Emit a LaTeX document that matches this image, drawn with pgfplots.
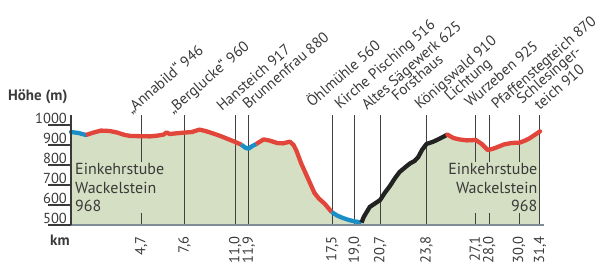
\documentclass[border=0pt]{standalone}
\usepackage{fontspec}
\setmainfont{PT Sans}
\usepackage{pgfplots}
\usepackage{pgfplotstable}
\pgfplotsset{compat=1.18}
\definecolor{fillgreen}{HTML}{D5DFC3}
\definecolor{pred}{HTML}{E2453A}
\definecolor{pblue}{HTML}{1B8FC5}
\definecolor{pblack}{HTML}{222222}
\definecolor{txt}{HTML}{3A3A3A}
\definecolor{vline}{HTML}{404040}
\definecolor{base}{HTML}{7D8C96}

\pgfplotstableread{
km elev
0 965
0.5 960
1.0 950
1.5 962
2.0 972
2.6 970
3.1 962
3.6 950
4.0 945
4.7 944
5.3 943
5.8 947
6.2 952
6.4 963
6.6 955
7.0 958
7.6 962
8.1 965
8.6 977
9.0 970
9.5 958
10.0 945
10.5 930
11.0 915
11.4 902
11.7 885
11.9 882
12.1 893
12.4 905
12.9 928
13.3 922
13.8 910
14.2 908
14.65 917
14.9 900
15.1 870
15.4 810
15.7 760
16.0 710
16.3 660
16.6 632
17.0 605
17.45 565
17.8 548
18.2 535
18.6 525
19.0 518
19.45 512
19.6 540
20.0 590
20.3 605
20.7 625
21.0 660
21.35 695
21.7 735
22.0 765
22.4 790
22.7 808
23.0 820
23.25 840
23.5 875
23.8 905
24.2 915
24.5 925
24.9 940
25.2 952
25.6 935
26.0 928
26.5 923
27.1 925
27.5 905
27.9 875
28.2 880
28.5 888
29.0 903
29.5 910
30.05 912
30.4 922
30.7 933
31.0 948
31.4 968
}\profile

\pgfplotstableread{
km elev
0 965
0.5 960
1.0 950
}\blueA
\pgfplotstableread{
km elev
1.0 950
1.5 962
2.0 972
2.6 970
3.1 962
3.6 950
4.0 945
4.7 944
5.3 943
5.8 947
6.2 952
6.4 963
6.6 955
7.0 958
7.6 962
8.1 965
8.6 977
9.0 970
9.5 958
10.0 945
10.5 930
11.0 915
11.4 902
}\redA
\pgfplotstableread{
km elev
11.4 902
11.7 885
11.9 882
12.1 893
12.4 905
}\blueB
\pgfplotstableread{
km elev
12.4 905
12.9 928
13.3 922
13.8 910
14.2 908
14.65 917
14.9 900
15.1 870
15.4 810
15.7 760
16.0 710
16.3 660
16.6 632
17.0 605
17.45 565
}\redB
\pgfplotstableread{
km elev
17.45 565
17.8 548
18.2 535
18.6 525
19.0 518
19.45 512
}\blueC
\pgfplotstableread{
km elev
19.45 512
19.6 540
20.0 590
20.3 605
20.7 625
21.0 660
21.35 695
21.7 735
22.0 765
22.4 790
22.7 808
23.0 820
23.25 840
23.5 875
23.8 905
24.2 915
24.5 925
24.9 940
25.2 952
}\blackA
\pgfplotstableread{
km elev
25.2 952
25.6 935
26.0 928
26.5 923
27.1 925
27.5 905
27.9 875
28.2 880
28.5 888
29.0 903
29.5 910
30.05 912
30.4 922
30.7 933
31.0 948
31.4 968
}\redC

\begin{document}
\begin{tikzpicture}
\begin{axis}[
  width=469bp, height=100bp, scale only axis,
  xmin=0, xmax=31.4, ymin=500, ymax=1000,
  clip=false,
  axis line style={draw=none},
  x tick style={draw=none}, y tick style={draw=none},
  ytick={500,600,700,800,900,1000},
  yticklabel style={anchor=base east, inner sep=0pt, xshift=-4bp, yshift=1.2bp, text=txt, font=\fontsize{14.5bp}{15bp}\selectfont},
  /pgf/number format/assume math mode=true,
  /pgf/number format/set thousands separator={},
  xtick={4.7,7.6,11.0,11.9,17.5,19.0,20.7,23.8,27.1,28.0,30.0,31.4},
  xticklabels={{4,7},{7,6},{11,0},{11,9},{17,5},{19,0},{20,7},{23,8},{27,1},{28,0},{30,0},{31,4}},
  xticklabel style={rotate=90, anchor=east, inner sep=0pt, text=txt, font=\fontsize{14.5bp}{15bp}\selectfont},
  xticklabel shift=11bp,
]
\addplot[draw=none, fill=fillgreen] table[x=km,y=elev]{\profile} \closedcycle;

% vertical marker lines
\draw[vline, line width=1bp] (axis cs:4.7,500) -- (axis cs:4.7,1050);
\draw[vline, line width=1bp] (axis cs:7.6,500) -- (axis cs:7.6,1050);
\draw[vline, line width=1bp] (axis cs:11.0,500) -- (axis cs:11.0,1050);
\draw[vline, line width=1bp] (axis cs:11.9,500) -- (axis cs:11.9,1050);
\draw[vline, line width=1bp] (axis cs:17.5,500) -- (axis cs:17.5,1050);
\draw[vline, line width=1bp] (axis cs:19.0,500) -- (axis cs:19.0,1050);
\draw[vline, line width=1bp] (axis cs:20.7,500) -- (axis cs:20.7,1050);
\draw[vline, line width=1bp] (axis cs:23.8,500) -- (axis cs:23.8,1050);
\draw[vline, line width=1bp] (axis cs:27.1,500) -- (axis cs:27.1,1050);
\draw[vline, line width=1bp] (axis cs:28.0,500) -- (axis cs:28.0,1050);
\draw[vline, line width=1bp] (axis cs:30.0,500) -- (axis cs:30.0,1050);
\draw[vline, line width=1bp] (axis cs:31.4,500) -- (axis cs:31.4,1050);

% inner text boxes
\node[fill=fillgreen, inner sep=1bp, align=left, anchor=north west, text=txt,
  font=\fontsize{16bp}{18.5bp}\selectfont] at (axis cs:0.2,815) {Einkehrstube\\Wackelstein\\968};
\node[fill=fillgreen, inner sep=1bp, align=right, anchor=north east, text=txt,
  font=\fontsize{16bp}{18.5bp}\selectfont] at (axis cs:31.3,815) {Einkehrstube\\Wackelstein\\968};

% profile segments
\addplot[pblue, line width=4.3bp, line join=round, line cap=round] table[x=km,y=elev]{\blueA};
\addplot[pred, line width=4.3bp, line join=round] table[x=km,y=elev]{\redA};
\addplot[pblue, line width=4.3bp, line join=round] table[x=km,y=elev]{\blueB};
\addplot[pred, line width=4.3bp, line join=round] table[x=km,y=elev]{\redB};
\addplot[pblue, line width=4.3bp, line join=round] table[x=km,y=elev]{\blueC};
\addplot[pblack, line width=4.3bp, line join=round] table[x=km,y=elev]{\blackA};
\addplot[pred, line width=4.3bp, line join=round, line cap=round] table[x=km,y=elev]{\redC};

% axes
\draw[base, line width=2bp] (axis cs:0,500) -- (axis cs:31.7,500);
\draw[txt, line width=1.8bp] (axis cs:0,500) -- (axis cs:0,1050);
\draw[txt, line width=1.2bp] (axis cs:-1.54,600) -- (axis cs:0,600);
\draw[txt, line width=1.2bp] (axis cs:-1.54,700) -- (axis cs:0,700);
\draw[txt, line width=1.2bp] (axis cs:-1.54,800) -- (axis cs:0,800);
\draw[txt, line width=1.2bp] (axis cs:-1.54,900) -- (axis cs:0,900);
\draw[txt, line width=1.2bp] (axis cs:-1.54,1000) -- (axis cs:0,1000);
\draw[txt, line width=1.2bp] (axis cs:-1.54,500) -- (axis cs:0,500);

% axis titles
\node[anchor=base west, inner sep=0pt, text=txt, font=\bfseries\fontsize{15bp}{16bp}\selectfont] at (axis cs:-4.22,1120) {Höhe (m)};
\node[anchor=base west, inner sep=0pt, text=txt, font=\bfseries\fontsize{15bp}{16bp}\selectfont] at (axis cs:-1.41,395) {km};

% place labels
\begin{scope}[every node/.style={anchor=base west, rotate=41, inner sep=0pt, text=txt, font=\fontsize{15bp}{16bp}\selectfont}]
\node at (axis cs:4.06,1050) {„Annabild“ 946};
\node at (axis cs:6.83,1050) {„Berglucke“ 960};
\node at (axis cs:10.11,1065) {Hansteich 917};
\node at (axis cs:11.85,1075) {Brunnenfrau 880};
\node at (axis cs:16.13,1085) {Öhlmühle 560};
\node at (axis cs:18.0,1075) {Kirche Pisching 516};
\node at (axis cs:19.81,1070) {Altes Sägewerk 625};
\node at (axis cs:21.82,1115) {Forsthaus};
\node at (axis cs:23.36,1075) {Königswald 910};
\node at (axis cs:25.37,1115) {Lichtung};
\node at (axis cs:26.71,1085) {Wurzeben 925};
\node at (axis cs:28.51,1075) {Pfaffenstegteich 870};
\node at (axis cs:30.19,1100) {Schlesinger-};
\node at (axis cs:31.39,1070) {teich 910};
\end{scope}

\coordinate (bbll) at (axis cs:-4.754,285);
\coordinate (bbur) at (axis cs:35.485,1625);
\end{axis}
\pgfresetboundingbox
\path[use as bounding box] (bbll) rectangle (bbur);
\end{tikzpicture}
\end{document}
